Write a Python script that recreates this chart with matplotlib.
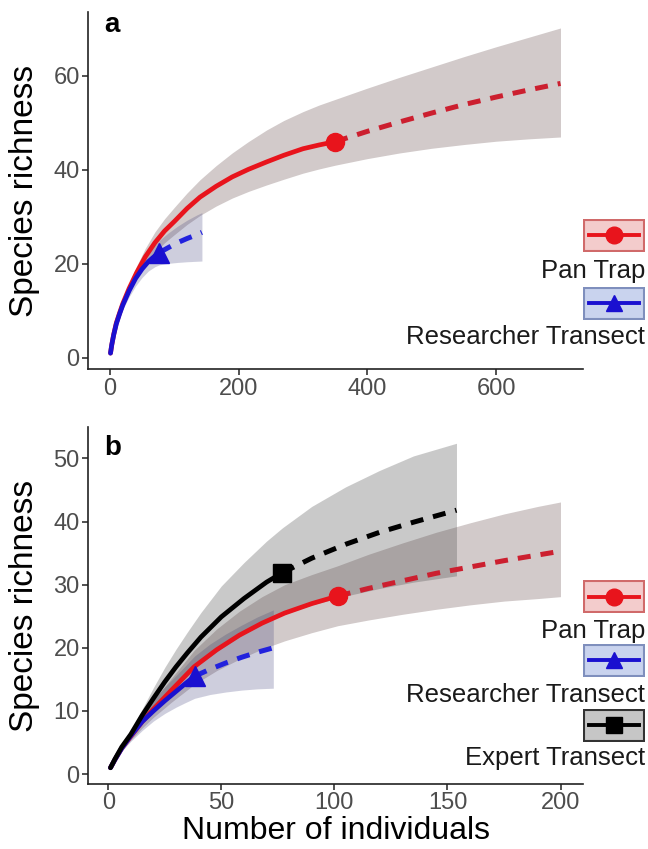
# Species accumulation curves (rarefaction + extrapolation), two panels

import matplotlib
matplotlib.use("Agg")
import matplotlib.pyplot as plt
from matplotlib.patches import Rectangle

plt.rcParams['font.family'] = ['Liberation Sans', 'DejaVu Sans']

# ---- panel a: Pan Trap ----
a_pan_x = [1, 3, 6, 10, 15, 20, 30, 41.5, 55, 70, 85, 100, 120, 140, 165, 190, 215, 243.6, 270, 300, 325, 350]
a_pan_y = [1, 2.8, 5, 7.4, 9.5, 11.5, 14.8, 18.1, 21.5, 24.5, 27, 29, 31.8, 34.2, 36.5, 38.5, 40.1, 41.7,
           43.1, 44.5, 45.3, 46]
a_pan_ext_x = [350, 400, 450, 500, 550, 600, 650, 700]
a_pan_ext_y = [46, 48.2, 50.2, 52.1, 53.9, 55.5, 57, 58.4]
a_pan_band_x = [1, 3, 6, 10, 15, 20, 30, 41.5, 55, 70, 85, 100, 120, 140, 165, 190, 215, 243.6, 270, 300,
                325, 350, 400, 450, 500, 550, 600, 650, 700]
a_pan_lo = [1, 2.7, 4.8, 7.0, 9.0, 10.8, 13.9, 16.9, 19.8, 22.4, 24.5, 26.2, 28.4, 30.3, 32.3, 34, 35.4, 36.8,
            38, 39.3, 40.2, 41, 42.4, 43.6, 44.6, 45.4, 46.1, 46.6, 47]
a_pan_hi = [1, 2.9, 5.2, 7.8, 10, 12.2, 15.8, 19.5, 23.3, 26.8, 29.6, 32, 35.1, 37.9, 40.9, 43.6, 46, 48.5,
            50.5, 52.4, 53.8, 55, 57.4, 59.7, 61.9, 64.1, 66.2, 68.2, 70.2]

# ---- panel a: Researcher Transect ----
a_res_x = [1, 3, 6, 10, 15, 20, 30, 40, 50, 60, 70, 77]
a_res_y = [1, 2.8, 4.9, 7.2, 9.3, 11.2, 14.3, 16.9, 18.9, 20.5, 21.7, 22.4]
a_res_ext_x = [77, 90, 105, 120, 135, 143]
a_res_ext_y = [22.4, 23.4, 24.5, 25.4, 26.2, 26.7]
a_res_band_x = [1, 3, 6, 10, 15, 20, 30, 40, 50, 60, 70, 77, 90, 105, 120, 135, 143]
a_res_lo = [1, 2.7, 4.6, 6.7, 8.6, 10.3, 13.0, 15.3, 17.1, 18.5, 19.4, 19.8, 20.1, 20.3, 20.45, 20.55, 20.6]
a_res_hi = [1, 2.9, 5.2, 7.7, 10, 12.1, 15.6, 18.5, 20.7, 22.5, 24, 25, 26.5, 28, 29.3, 30.4, 30.9]

# ---- panel b: Pan Trap ----
b_pan_x = [1, 3, 6, 10, 15, 20, 28, 38, 48, 58, 68, 78, 90, 101.5]
b_pan_y = [1, 2.3, 4.1, 6.0, 8.3, 10.3, 13.3, 17.0, 19.7, 22.0, 23.9, 25.5, 27.0, 28.2]
b_pan_ext_x = [101.5, 115, 130, 145, 160, 175, 190, 200]
b_pan_ext_y = [28.2, 29.4, 30.6, 31.8, 32.8, 33.8, 34.7, 35.3]
b_pan_band_x = [1, 3, 6, 10, 15, 20, 28, 38, 48, 58, 68, 78, 90, 101.5, 115, 130, 145, 160, 175, 190, 200]
b_pan_lo = [1, 2.2, 3.8, 5.4, 7.3, 9.0, 11.4, 14.2, 16.4, 18.2, 19.8, 21.1, 22.4, 23.5, 24.4, 25.3, 26.1,
            26.8, 27.4, 27.8, 28.1]
b_pan_hi = [1, 2.4, 4.4, 6.6, 9.3, 11.7, 15.2, 19.6, 23.0, 25.8, 28.1, 30, 31.6, 33, 34.8, 36.6, 38.3,
            39.8, 41.2, 42.4, 43.1]

# ---- panel b: Researcher Transect ----
b_res_x = [1, 3, 6, 10, 15, 20, 25, 30, 34, 38.2]
b_res_y = [1, 2.3, 4.1, 6.1, 8.3, 10.0, 11.6, 13.1, 14.3, 15.5]
b_res_ext_x = [38.2, 45, 52, 59, 66, 73]
b_res_ext_y = [15.5, 16.6, 17.6, 18.5, 19.3, 20.0]
b_res_band_x = [1, 3, 6, 10, 15, 20, 25, 30, 34, 38.2, 45, 52, 59, 66, 73]
b_res_lo = [1, 2.1, 3.6, 5.2, 6.9, 8.4, 9.6, 10.6, 11.3, 12.0, 12.6, 13.0, 13.3, 13.5, 13.6]
b_res_hi = [1, 2.5, 4.6, 7.0, 9.7, 11.8, 13.8, 15.6, 17.1, 18.7, 20.6, 22.2, 23.6, 24.9, 26]

# ---- panel b: Expert Transect ----
b_exp_x = [1, 3, 6, 10, 15, 20, 25, 30, 35, 41, 50, 60, 70, 77]
b_exp_y = [1, 2.4, 4.3, 6.3, 9.3, 12.0, 14.6, 17.0, 19.2, 21.7, 24.9, 27.8, 30.4, 31.9]
b_exp_ext_x = [77, 90, 105, 120, 135, 154]
b_exp_ext_y = [31.9, 34.2, 36.4, 38.3, 39.9, 41.8]
b_exp_band_x = [1, 3, 6, 10, 15, 20, 25, 30, 35, 41, 50, 60, 70, 77, 90, 105, 120, 135, 154]
b_exp_lo = [1, 2.3, 4.0, 5.8, 8.2, 10.3, 12.3, 14.1, 15.8, 17.6, 19.9, 22.2, 24.1, 25.2, 26.8, 28.2, 29.4,
            30.4, 31.4]
b_exp_hi = [1, 2.5, 4.6, 6.9, 10.3, 13.7, 16.9, 19.8, 22.5, 25.6, 29.8, 33.5, 36.9, 39, 42.4, 45.5, 48.1,
            50.4, 52.4]

labels = ["Pan Trap", "Researcher Transect", "Expert Transect"]

# style per method: solid colour, dashed colour, band colour/alpha, marker, key fill, key edge
styles = {
    "Pan Trap": dict(c="#e8141c", cd="#cc1f2f", band="#6a5050", alpha=0.3, m="o", ms=13,
                     kf="#f3cccc", ke="#d06a6a"),
    "Researcher Transect": dict(c="#1a10d0", cd="#2222dd", band="#3f3f7b", alpha=0.25, m="^", ms=14,
                                kf="#c9d3ee", ke="#7f8fbd"),
    "Expert Transect": dict(c="#000000", cd="#000000", band="#404040", alpha=0.28, m="s", ms=13,
                            kf="#c6c6c6", ke="#333333"),
}

fig = plt.figure(figsize=(6.48, 8.49), dpi=100)
ax_a = fig.add_axes([0.1358, 0.5649, 0.7639, 0.4213])
ax_b = fig.add_axes([0.1358, 0.0766, 0.7639, 0.4204])


def draw_band(ax, name, bx, lo, hi):
    s = styles[name]
    ax.fill_between(bx, lo, hi, color=s["band"], alpha=s["alpha"], lw=0)


def draw_lines(ax, name, x, y, ex, ey):
    s = styles[name]
    ax.plot(x, y, color=s["c"], lw=3.4, solid_capstyle="round", solid_joinstyle="round", zorder=3)
    ax.plot(ex, ey, color=s["cd"], lw=3.6, ls=(0, (2.6, 2.0)), zorder=3)
    ax.plot(x[-1], y[-1], marker=s["m"], ms=s["ms"], color=s["c"], zorder=4)


# panel a
draw_band(ax_a, "Pan Trap", a_pan_band_x, a_pan_lo, a_pan_hi)
draw_band(ax_a, "Researcher Transect", a_res_band_x, a_res_lo, a_res_hi)
draw_lines(ax_a, "Pan Trap", a_pan_x, a_pan_y, a_pan_ext_x, a_pan_ext_y)
draw_lines(ax_a, "Researcher Transect", a_res_x, a_res_y, a_res_ext_x, a_res_ext_y)

# panel b
draw_band(ax_b, "Pan Trap", b_pan_band_x, b_pan_lo, b_pan_hi)
draw_band(ax_b, "Researcher Transect", b_res_band_x, b_res_lo, b_res_hi)
draw_band(ax_b, "Expert Transect", b_exp_band_x, b_exp_lo, b_exp_hi)
draw_lines(ax_b, "Pan Trap", b_pan_x, b_pan_y, b_pan_ext_x, b_pan_ext_y)
draw_lines(ax_b, "Researcher Transect", b_res_x, b_res_y, b_res_ext_x, b_res_ext_y)
draw_lines(ax_b, "Expert Transect", b_exp_x, b_exp_y, b_exp_ext_x, b_exp_ext_y)

ax_a.set_xticks([0, 200, 400, 600])
ax_a.set_yticks([0, 20, 40, 60])
ax_b.set_xticks([0, 50, 100, 150, 200])
ax_b.set_yticks([0, 10, 20, 30, 40, 50])

for ax, letter, ly in [(ax_a, "a", 0.944), (ax_b, "b", 0.922)]:
    for sp in ["top", "right"]:
        ax.spines[sp].set_visible(False)
    for sp in ["left", "bottom"]:
        ax.spines[sp].set_linewidth(1.2)
        ax.spines[sp].set_color("#222222")
    ax.tick_params(labelsize=17, colors="#222222", labelcolor="#4d4d4d", length=4, width=1.1, pad=2)
    ax.set_ylabel("Species richness", fontsize=24)
    ax.yaxis.set_label_coords(-0.097, 0.5)
    ax.text(0.032, ly, letter, transform=ax.transAxes, fontsize=20, fontweight="bold",
            va="baseline", ha="left")

ax_b.set_xlabel("Number of individuals", fontsize=23, labelpad=1)


# legend keys: box above, label below, right aligned
def key(y_box, y_text, name):
    s = styles[name]
    kax = fig.add_axes([0.8992, y_box, 0.0962, 0.0389])
    kax.set_xlim(0, 1)
    kax.set_ylim(0, 1)
    kax.axis("off")
    kax.add_patch(Rectangle((0.02, 0.03), 0.96, 0.94, facecolor=s["kf"], edgecolor=s["ke"], lw=1.5))
    kax.plot([0.1, 0.9], [0.5, 0.5], color=s["c"], lw=2.8)
    kax.plot(0.5, 0.5, marker=s["m"], ms=12, color=s["c"])
    fig.text(0.9954, y_text, name, ha="right", va="center", fontsize=18.5, color="#1a1a1a")


key(0.7035, 0.6808, labels[0])
key(0.6231, 0.6030, labels[1])
key(0.2776, 0.2571, labels[0])
key(0.2029, 0.1814, labels[1])
key(0.1264, 0.1068, labels[2])

fig.savefig("out.png", dpi=100)
